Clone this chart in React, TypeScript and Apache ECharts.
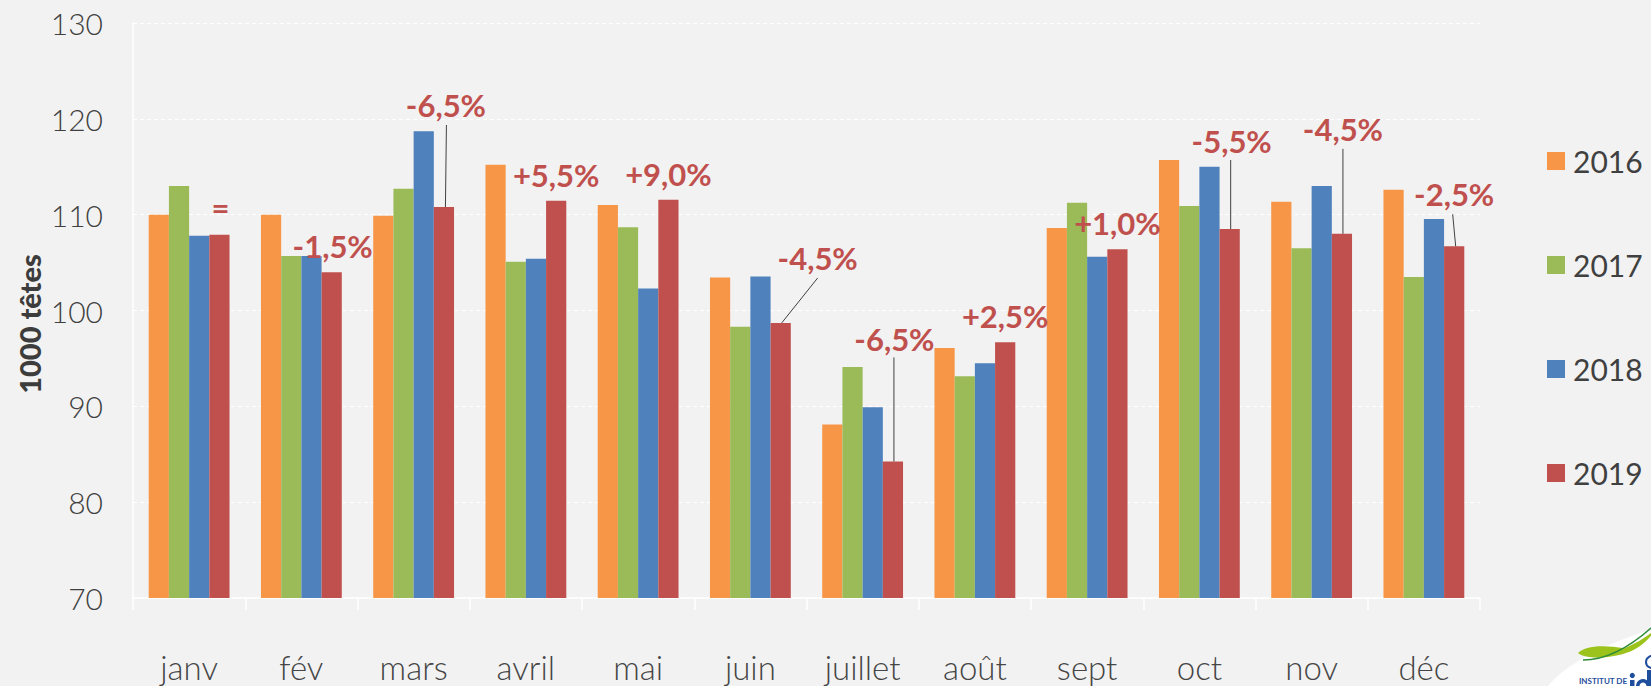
import React, { useEffect, useRef } from "react";
import * as echarts from "echarts";

const months = ["janv", "fév", "mars", "avril", "mai", "juin", "juillet", "août", "sept", "oct", "nov", "déc"];
const years = ["2016", "2017", "2018", "2019"];
const v2016 = [110.0, 110.0, 109.9, 115.2, 111.0, 103.45, 88.1, 96.1, 108.6, 115.7, 111.35, 112.6];
const v2017 = [113.0, 105.7, 112.7, 105.1, 108.7, 98.3, 94.1, 93.15, 111.25, 110.9, 106.5, 103.5];
const v2018 = [107.8, 105.7, 118.7, 105.4, 102.3, 103.55, 89.9, 94.5, 105.6, 115.0, 113.0, 109.55];
const v2019 = [107.9, 104.0, 110.8, 111.45, 111.55, 98.7, 84.25, 96.7, 106.4, 108.5, 108.0, 106.7];
const changes = ["=", "-1,5%", "-6,5%", "+5,5%", "+9,0%", "-4,5%", "-6,5%", "+2,5%", "+1,0%", "-5,5%", "-4,5%", "-2,5%"];
const yName = "1000 têtes";

// label placement relative to the 2019 bar top: [dx, dy, leaderTopDx, leaderTopDy, leaderBottomDx] (null = no leader)
const labelPlacement: [number, number, number | null, number | null, number | null][] = [
  [1, -28, null, null, null],
  [1, -26, null, null, null],
  [2, -102, 2.5, -82, 1.5],
  [0, -26, null, null, null],
  [0, -26, null, null, null],
  [37, -65, 37, -45, 1],
  [1.5, -122, 1, -104, 1],
  [0, -26, null, null, null],
  [0, -26, null, null, null],
  [2, -88, 1, -69, 1],
  [1, -105, 1, -85, 1],
  [0, -52, -1.5, -32, 1.5],
];

const colors = ["#F79646", "#9BBB59", "#4F81BD", "#C0504D"];
const FONT = "Lato, 'Open Sans', sans-serif";
const GAP = 0.28;

export default function App() {
  const ref = useRef<HTMLDivElement>(null);
  useEffect(() => {
    document.body.style.margin = "0";
    if (!ref.current) return;
    const chart = echarts.init(ref.current, null, { renderer: "svg" });
    const seriesData = [v2016, v2017, v2018, v2019];
    chart.setOption({
      animation: false,
      backgroundColor: "#F2F2F2",
      textStyle: { fontFamily: FONT },
      grid: { left: 133, right: 171, top: 23, bottom: 88, containLabel: false },
      legend: {
        orient: "vertical",
        left: 1542,
        top: 141,
        itemWidth: 18,
        itemHeight: 18,
        itemGap: 74,
        icon: "rect",
        data: years,
        textStyle: { fontSize: 30, color: "#404040", fontFamily: FONT, padding: [0, 0, 0, 3] },
      },
      xAxis: {
        type: "category",
        data: months,
        axisLine: { show: true, lineStyle: { color: "#FFFFFF", width: 1.5 } },
        axisTick: { show: true, length: 12, lineStyle: { color: "#FFFFFF", width: 1.5 } },
        axisLabel: { fontSize: 33, color: "#454545", margin: 52, fontFamily: FONT, fontWeight: 300 },
      },
      yAxis: {
        type: "value",
        min: 70,
        max: 130,
        interval: 10,
        axisLine: { show: true, lineStyle: { color: "#FFFFFF", width: 1.5 } },
        axisTick: { show: false },
        axisLabel: { fontSize: 30, color: "#404040", margin: 30, fontFamily: FONT, fontWeight: 300 },
        splitLine: { show: true, lineStyle: { color: "#FFFFFF", type: [4, 3], width: 1.2 } },
      },
      series: years.map((y, k) => ({
        name: y,
        type: "bar",
        data: seriesData[k],
        barGap: "0%",
        barCategoryGap: GAP * 100 + "%",
        itemStyle: { color: colors[k] },
      })),
    });

    const x0 = chart.convertToPixel({ xAxisIndex: 0 }, 0) as number;
    const x1 = chart.convertToPixel({ xAxisIndex: 0 }, 1) as number;
    const band = x1 - x0;
    const barW = (band * (1 - GAP)) / 4;
    const graphics: any[] = [];
    months.forEach((_, i) => {
      const cx = (chart.convertToPixel({ xAxisIndex: 0 }, i) as number) + 1.5 * barW;
      const top = chart.convertToPixel({ yAxisIndex: 0 }, v2019[i]) as number;
      const [dx, dy, ltx, lty, lbx] = labelPlacement[i];
      if (ltx !== null && lty !== null && lbx !== null) {
        graphics.push({
          type: "line",
          shape: { x1: cx + ltx, y1: top + lty, x2: cx + lbx, y2: top },
          style: { stroke: "#404040", lineWidth: 1 },
          z: 10,
        });
      }
      graphics.push({
        type: "text",
        x: cx + dx,
        y: top + dy,
        style: {
          text: changes[i],
          fill: "#C0504D",
          fontSize: 31,
          fontWeight: "bold",
          fontFamily: FONT,
          align: "center",
          verticalAlign: "middle",
        },
        z: 11,
      });
    });

    // y-axis title
    graphics.push({
      type: "text",
      x: 29,
      y: 324,
      rotation: Math.PI / 2,
      style: {
        text: yName,
        fill: "#3C3C3C",
        fontSize: 29,
        fontWeight: 900,
        fontFamily: FONT,
        align: "center",
        verticalAlign: "middle",
      },
    });

    // logo (partially visible, bottom-right)
    echarts.graphic.registerShape(
      "swoosh",
      (echarts.graphic as any).extendPath("M0 18 C 10 6, 40 4, 75 10 C 95 2, 110 -8, 125 -20 C 112 0, 95 14, 70 20 C 45 26, 15 28, 0 18 Z", {})
    );
    graphics.push({
      type: "ellipse",
      shape: { cx: 0, cy: 0, rx: 170, ry: 62 },
      x: 1705,
      y: 680,
      rotation: 0.2,
      style: { fill: "#FFFFFF" },
      z: 20,
    });
    graphics.push({
      type: "swoosh",
      x: 1578,
      y: 642,
      scaleX: 0.62,
      scaleY: 0.62,
      style: { fill: "#9BC31C" },
      z: 21,
    });
    graphics.push({
      type: "bezierCurve",
      shape: { x1: 1583, y1: 660, x2: 1651, y2: 628, cpx1: 1615, cpy1: 660 },
      style: { stroke: "#2E8B3A", lineWidth: 1.5, fill: "none" },
      z: 21,
    });
    graphics.push({
      type: "text",
      x: 1579,
      y: 681,
      style: { text: "INSTITUT DE", fill: "#1F4E9C", fontSize: 8, fontWeight: "bold", fontFamily: FONT, verticalAlign: "middle" },
      z: 22,
    });
    // "id" letters of the logo, drawn as shapes
    graphics.push({ type: "rect", shape: { x: 1630, y: 680, width: 4.5, height: 8 }, style: { fill: "#1F4E9C" }, z: 22 });
    graphics.push({ type: "circle", shape: { cx: 1632.3, cy: 675.5, r: 2.6 }, style: { fill: "#1F4E9C" }, z: 22 });
    graphics.push({ type: "ring", shape: { cx: 1643, cy: 686, r: 7, r0: 3.5 }, style: { fill: "#1F4E9C" }, z: 22 });
    graphics.push({ type: "rect", shape: { x: 1647, y: 670, width: 4.5, height: 18 }, style: { fill: "#1F4E9C" }, z: 22 });
    graphics.push({
      type: "circle",
      shape: { cx: 1652, cy: 662, r: 6 },
      style: { fill: "none", stroke: "#1F4E9C", lineWidth: 2 },
      z: 22,
    });

    chart.setOption({ graphic: graphics });
    return () => chart.dispose();
  }, []);
  return <div ref={ref} style={{ width: 1651, height: 686 }} />;
}
